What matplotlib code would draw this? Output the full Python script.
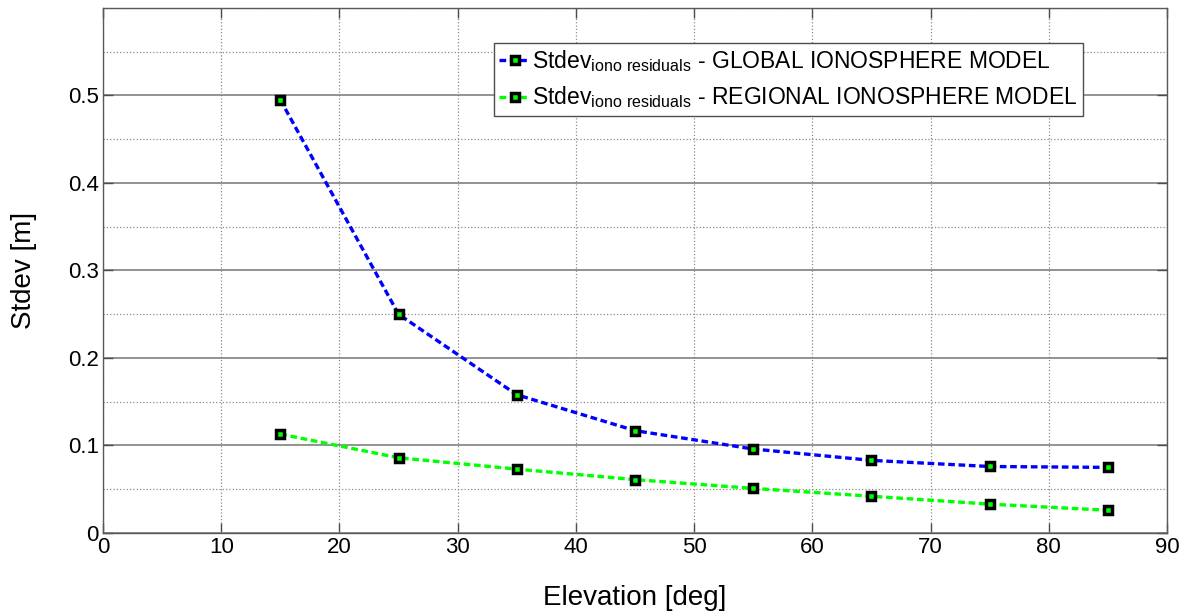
import matplotlib.pyplot as plt
from matplotlib.ticker import MultipleLocator

plt.rcParams['font.family'] = ['Liberation Sans', 'DejaVu Sans']
plt.rcParams['mathtext.fontset'] = 'custom'
plt.rcParams['mathtext.rm'] = 'Liberation Sans'

elevation = [15, 25, 35, 45, 55, 65, 75, 85]
stdev_global = [0.495, 0.250, 0.158, 0.117, 0.096, 0.083, 0.076, 0.075]
stdev_regional = [0.113, 0.086, 0.073, 0.061, 0.051, 0.042, 0.033, 0.026]

label_global = r'Stdev$_{\mathrm{iono\ residuals}}$ - GLOBAL IONOSPHERE MODEL'
label_regional = r'Stdev$_{\mathrm{iono\ residuals}}$ - REGIONAL IONOSPHERE MODEL'


def main():
    fig = plt.figure(figsize=(11.8, 6.13), dpi=100)
    ax = fig.add_axes([0.0873, 0.1305, 0.9017, 0.8565])

    marker_style = dict(marker='s', markersize=6, markeredgewidth=2.5,
                        markeredgecolor='k', markerfacecolor='#00ff00')
    ax.plot(elevation, stdev_global, '--', color='#0000ff', lw=2.4,
            dashes=(2.0, 1.1), label=label_global, zorder=3, **marker_style)
    ax.plot(elevation, stdev_regional, '--', color='#00ff00', lw=2.4,
            dashes=(2.0, 1.1), label=label_regional, zorder=3, **marker_style)

    ax.set_xlim(0, 90)
    ax.set_ylim(0, 0.6)
    ax.set_xticks(range(0, 91, 10))
    ax.set_yticks([0, 0.1, 0.2, 0.3, 0.4, 0.5])
    ax.set_yticklabels(['0', '0.1', '0.2', '0.3', '0.4', '0.5'])
    ax.yaxis.set_minor_locator(MultipleLocator(0.05))

    # grid like the original: x dotted, y solid major + dotted minor
    ax.xaxis.grid(True, which='major', ls=':', color='0.55', lw=0.9)
    ax.yaxis.grid(True, which='major', ls='-', color='0.5', lw=1.2)
    ax.yaxis.grid(True, which='minor', ls=':', color='0.55', lw=0.9)
    ax.set_axisbelow(True)

    ax.tick_params(which='major', direction='in', length=7, width=1,
                   top=True, right=True, labelsize=16, color='0.3', pad=3)
    ax.tick_params(which='minor', length=0)
    for s in ax.spines.values():
        s.set_color('0.35')
        s.set_linewidth(1)

    ax.set_xlabel('Elevation [deg]', fontsize=20, labelpad=19)
    ax.set_ylabel('Stdev [m]', fontsize=20, labelpad=22)

    leg = ax.legend(loc='upper left', bbox_to_anchor=(0.367, 0.934),
                    fontsize=16.5, fancybox=False, framealpha=1,
                    edgecolor='0.3', handlelength=1.35, handletextpad=0.1,
                    borderpad=0.25, labelspacing=0.45, borderaxespad=0)
    leg.get_frame().set_linewidth(1)

    fig.savefig('out.png', dpi=100)


if __name__ == "__main__":
    main()
